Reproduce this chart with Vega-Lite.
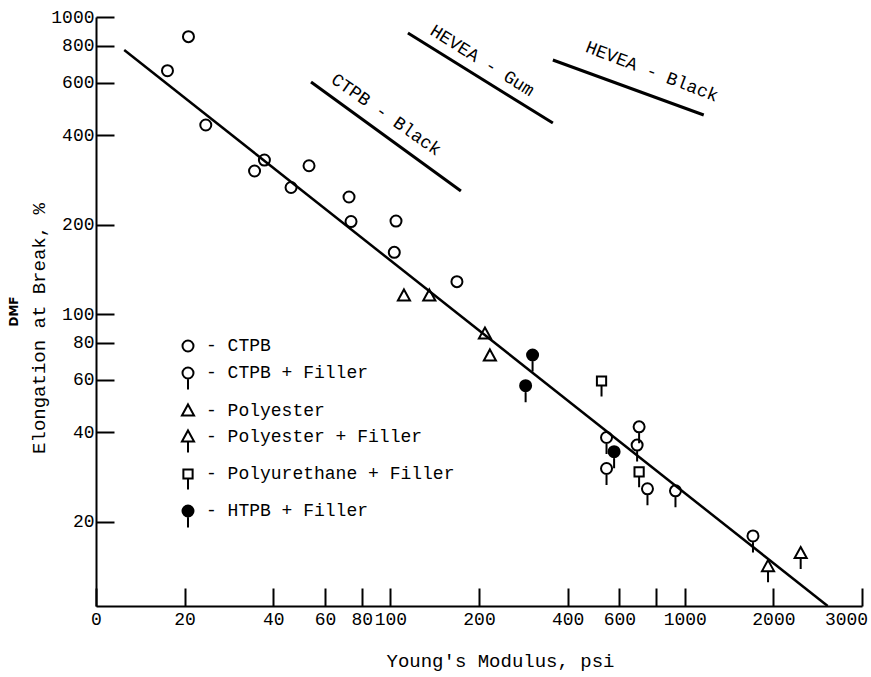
{
  "$schema": "https://vega.github.io/schema/vega-lite/v6.json",
  "autosize": {"type": "none"},
  "padding": {"left": 96, "top": 17, "right": 9, "bottom": 71},
  "width": 766,
  "height": 589,
  "background": "white",
  "config": {
    "view": {"stroke": null},
    "font": "Liberation Mono",
    "axis": {
      "grid": false, "domainColor": "black", "domainWidth": 2,
      "tickColor": "black", "tickWidth": 2, "tickSize": -18,
      "labelColor": "black", "labelFont": "Liberation Mono", "labelFontSize": 18,
      "titleFont": "Liberation Mono", "titleFontSize": 19, "titleFontWeight": "normal", "titleColor": "black",
      "labelOverlap": false, "labelFlush": false
    }
  },
  "datasets": {
    "points": [
      {"x": 17.49, "y": 659.5, "material": "CTPB"},
      {"x": 20.61, "y": 858.5, "material": "CTPB"},
      {"x": 23.6, "y": 432.9, "material": "CTPB"},
      {"x": 37.33, "y": 329.9, "material": "CTPB"},
      {"x": 34.56, "y": 303.0, "material": "CTPB"},
      {"x": 52.92, "y": 315.7, "material": "CTPB"},
      {"x": 45.98, "y": 266.7, "material": "CTPB"},
      {"x": 72.36, "y": 247.7, "material": "CTPB"},
      {"x": 73.5, "y": 204.8, "material": "CTPB"},
      {"x": 104.5, "y": 205.6, "material": "CTPB"},
      {"x": 103.1, "y": 161.3, "material": "CTPB"},
      {"x": 168.3, "y": 128.5, "material": "CTPB"},
      {"x": 111.2, "y": 115.0, "material": "Polyester"},
      {"x": 135.6, "y": 115.0, "material": "Polyester"},
      {"x": 209.5, "y": 85.6, "material": "Polyester"},
      {"x": 217.8, "y": 72.2, "material": "Polyester"},
      {"x": 1918, "y": 14.1, "material": "Polyester + Filler"},
      {"x": 2476, "y": 15.6, "material": "Polyester + Filler"},
      {"x": 304.1, "y": 72.8, "material": "HTPB + Filler"},
      {"x": 288.0, "y": 57.4, "material": "HTPB + Filler"},
      {"x": 575.4, "y": 34.4, "material": "HTPB + Filler"},
      {"x": 521.5, "y": 59.5, "material": "Polyurethane + Filler"},
      {"x": 699.7, "y": 29.4, "material": "Polyurethane + Filler"},
      {"x": 542.3, "y": 38.4, "material": "CTPB + Filler"},
      {"x": 699.7, "y": 41.7, "material": "CTPB + Filler"},
      {"x": 688.9, "y": 36.2, "material": "CTPB + Filler"},
      {"x": 542.3, "y": 30.2, "material": "CTPB + Filler"},
      {"x": 747.0, "y": 25.8, "material": "CTPB + Filler"},
      {"x": 929.9, "y": 25.4, "material": "CTPB + Filler"},
      {"x": 1705, "y": 17.9, "material": "CTPB + Filler"}
    ],
    "fit": [
      {"x": 12.47, "y": 774.2},
      {"x": 3058, "y": 10.4}
    ],
    "refs": [
      {"line": "CTPB - Black", "x": 53.76, "y": 604.0},
      {"line": "CTPB - Black", "x": 173.6, "y": 259.5},
      {"line": "HEVEA - Gum", "x": 114.7, "y": 883.3},
      {"line": "HEVEA - Gum", "x": 356.4, "y": 439.6},
      {"line": "HEVEA - Black", "x": 356.4, "y": 716.5},
      {"line": "HEVEA - Black", "x": 1160, "y": 467.7}
    ],
    "labels": [
      {"label": "CTPB - Black", "x": 96.6, "y": 467.7},
      {"label": "HEVEA - Gum", "x": 204.6, "y": 711.1},
      {"label": "HEVEA - Black", "x": 772.7, "y": 652.8}
    ]
  },
  "layer": [
    {
      "layer": [
        {
          "data": {"name": "fit"},
          "mark": {"type": "line", "color": "black", "strokeWidth": 2.5},
          "encoding": {
            "x": {
              "field": "x", "type": "quantitative",
              "scale": {"type": "log", "domain": [10, 4000], "nice": false},
              "axis": {
                "title": "Young's Modulus, psi",
                "values": [10, 20, 40, 60, 80, 100, 200, 400, 600, 800, 1000, 2000, 4000],
                "labelExpr": "datum.value == 10 ? '0' : datum.value == 800 ? '' : datum.value == 4000 ? '3000' : format(datum.value, 'd')",
                "labelOffset": {"condition": {"test": "datum.value == 4000", "value": -16}, "value": 0},
                "labelPadding": 22,
                "titleX": 404, "titleY": 54, "titleBaseline": "middle", "titleAlign": "center"
              }
            },
            "y": {
              "field": "y", "type": "quantitative",
              "scale": {"type": "log", "domain": [10.4, 1000], "nice": false},
              "axis": {
                "title": "Elongation at Break, %",
                "values": [20, 40, 60, 80, 100, 200, 400, 600, 800, 1000],
                "format": "d",
                "labelPadding": 20,
                "titleX": -58, "titleY": 311, "titleBaseline": "middle", "titleAngle": -90, "titleAlign": "center"
              }
            }
          }
        },
        {
          "data": {"name": "points"},
          "mark": {"type": "point", "stroke": "black", "strokeWidth": 2, "opacity": 1, "size": 484},
          "encoding": {
            "x": {"field": "x", "type": "quantitative", "scale": {"type": "log", "domain": [10, 4000], "nice": false}},
            "y": {"field": "y", "type": "quantitative", "scale": {"type": "log", "domain": [10.4, 1000], "nice": false}},
            "shape": {
              "field": "material", "type": "nominal",
              "scale": {
                "domain": ["CTPB", "CTPB + Filler", "Polyester", "Polyester + Filler", "Polyurethane + Filler", "HTPB + Filler"],
                "range": [
                  "M-0.5,0A0.5,0.5,0,1,0,0.5,0A0.5,0.5,0,1,0,-0.5,0Z",
                  "M-0.5,0A0.5,0.5,0,1,0,0.5,0A0.5,0.5,0,1,0,-0.5,0ZM0,0.5L0,1.5",
                  "M0,-0.6L0.55,0.4L-0.55,0.4Z",
                  "M0,-0.6L0.55,0.4L-0.55,0.4ZM0,0.4L0,1.4",
                  "M-0.42,-0.42L0.42,-0.42L0.42,0.42L-0.42,0.42ZM0,0.42L0,1.4",
                  "M-0.5,0A0.5,0.5,0,1,0,0.5,0A0.5,0.5,0,1,0,-0.5,0ZM0,0.5L0,1.5"
                ]
              },
              "legend": {
                "title": null, "orient": "none", "legendX": 80, "legendY": 317, "padding": 0,
                "rowPadding": 5, "labelOffset": 6, "symbolSize": 484, "symbolStrokeWidth": 2,
                "symbolStrokeColor": "black", "symbolOpacity": 1,
                "labelFont": "Liberation Mono", "labelFontSize": 18, "labelColor": "black", "labelLimit": 400,
                "labelExpr": "'- ' + datum.label",
                "encode": {"symbols": {"update": {"stroke": {"value": "black"}, "strokeWidth": {"value": 2}, "opacity": {"value": 1}}}}
              }
            },
            "fill": {
              "field": "material", "type": "nominal",
              "scale": {
                "domain": ["CTPB", "CTPB + Filler", "Polyester", "Polyester + Filler", "Polyurethane + Filler", "HTPB + Filler"],
                "range": ["transparent", "transparent", "transparent", "transparent", "transparent", "black"]
              },
              "legend": {
                "title": null, "orient": "none", "legendX": 80, "legendY": 317, "padding": 0,
                "rowPadding": 5, "labelOffset": 6, "symbolSize": 484, "symbolStrokeWidth": 2,
                "symbolStrokeColor": "black", "symbolOpacity": 1,
                "labelFont": "Liberation Mono", "labelFontSize": 18, "labelColor": "black", "labelLimit": 400,
                "labelExpr": "'- ' + datum.label",
                "encode": {"symbols": {"update": {"stroke": {"value": "black"}, "strokeWidth": {"value": 2}, "opacity": {"value": 1}}}}
              }
            }
          }
        }
      ]
    },
    {
      "layer": [
        {
          "data": {"name": "refs"},
          "mark": {"type": "line", "color": "black", "strokeWidth": 3},
          "encoding": {
            "x": {"field": "x", "type": "quantitative", "scale": {"type": "log", "domain": [10, 4000], "nice": false}},
            "y": {
              "field": "y", "type": "quantitative",
              "scale": {"type": "log", "domain": [10.4, 1000], "nice": false},
              "axis": {
                "orient": "left", "title": "DMF", "labels": false, "ticks": false, "domain": false,
                "titleFont": "DejaVu Sans", "titleFontWeight": "bold", "titleFontSize": 12,
                "titleX": -83, "titleY": 294, "titleBaseline": "middle", "titleAngle": -90, "titleAlign": "center"
              }
            },
            "detail": {"field": "line", "type": "nominal"}
          }
        },
        {
          "data": {"name": "labels"},
          "transform": [{"filter": "datum.label == 'CTPB - Black'"}],
          "mark": {"type": "text", "font": "Liberation Mono", "fontSize": 18, "angle": 35, "align": "center", "baseline": "middle", "color": "black"},
          "encoding": {
            "x": {"field": "x", "type": "quantitative", "scale": {"type": "log", "domain": [10, 4000], "nice": false}},
            "y": {"field": "y", "type": "quantitative", "scale": {"type": "log", "domain": [10.4, 1000], "nice": false}},
            "text": {"field": "label"}
          }
        },
        {
          "data": {"name": "labels"},
          "transform": [{"filter": "datum.label == 'HEVEA - Gum'"}],
          "mark": {"type": "text", "font": "Liberation Mono", "fontSize": 18, "angle": 32, "align": "center", "baseline": "middle", "color": "black"},
          "encoding": {
            "x": {"field": "x", "type": "quantitative", "scale": {"type": "log", "domain": [10, 4000], "nice": false}},
            "y": {"field": "y", "type": "quantitative", "scale": {"type": "log", "domain": [10.4, 1000], "nice": false}},
            "text": {"field": "label"}
          }
        },
        {
          "data": {"name": "labels"},
          "transform": [{"filter": "datum.label == 'HEVEA - Black'"}],
          "mark": {"type": "text", "font": "Liberation Mono", "fontSize": 18, "angle": 21, "align": "center", "baseline": "middle", "color": "black"},
          "encoding": {
            "x": {"field": "x", "type": "quantitative", "scale": {"type": "log", "domain": [10, 4000], "nice": false}},
            "y": {"field": "y", "type": "quantitative", "scale": {"type": "log", "domain": [10.4, 1000], "nice": false}},
            "text": {"field": "label"}
          }
        }
      ]
    }
  ],
  "resolve": {"scale": {"y": "independent"}}
}
